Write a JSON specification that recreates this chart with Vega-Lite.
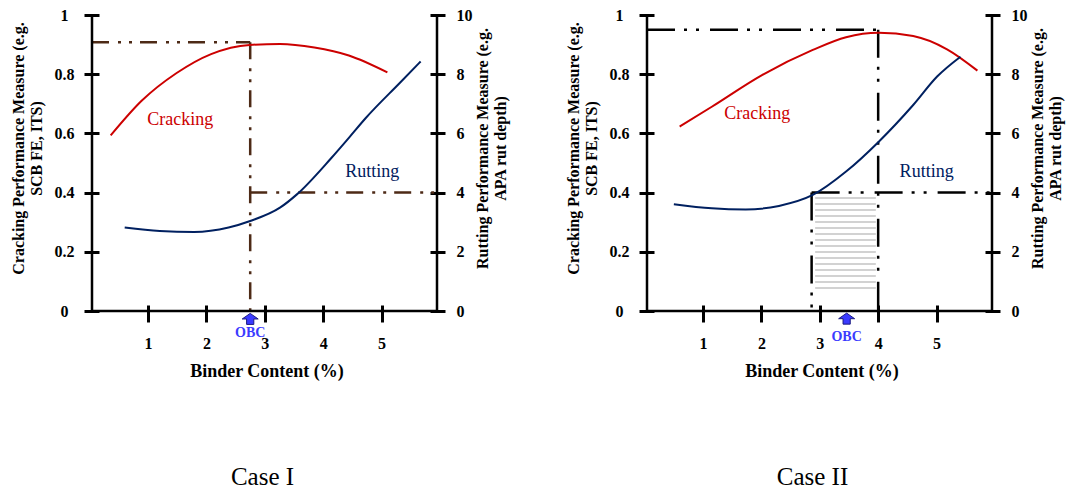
{
  "$schema": "https://vega.github.io/schema/vega-lite/v6.json",
  "autosize": {"type": "pad"},
  "padding": {"left": 9, "top": 7, "right": 5, "bottom": 0},
  "background": "white",
  "config": {
    "view": {"stroke": null},
    "font": "Liberation Serif",
    "axis": {
      "grid": false, "domain": false, "tickColor": "black", "tickWidth": 3,
      "labelFont": "Liberation Serif", "labelFontSize": 16, "labelFontWeight": "bold", "labelColor": "black",
      "labelOverlap": false, "labelFlush": false, "labelBound": false,
      "titleFont": "Liberation Serif", "titleFontSize": 16, "titleFontWeight": "bold", "titleColor": "black", "titleLineHeight": 18
    }
  },
  "datasets": {
    "p1crack": [
      {"x": 0.36, "y": 0.593}, {"x": 0.89, "y": 0.71}, {"x": 1.49, "y": 0.804}, {"x": 2.08, "y": 0.868},
      {"x": 2.74, "y": 0.899}, {"x": 3.26, "y": 0.902}, {"x": 3.85, "y": 0.89}, {"x": 4.44, "y": 0.863}, {"x": 5.1, "y": 0.806}
    ],
    "p1rut": [
      {"x": 0.6, "r": 2.82}, {"x": 1.2, "r": 2.7}, {"x": 1.79, "r": 2.67}, {"x": 2.38, "r": 2.82}, {"x": 2.75, "r": 3.04},
      {"x": 3.26, "r": 3.49}, {"x": 3.55, "r": 3.94}, {"x": 4.14, "r": 5.17}, {"x": 4.44, "r": 5.85}, {"x": 4.73, "r": 6.52},
      {"x": 5.32, "r": 7.72}, {"x": 5.67, "r": 8.43}
    ],
    "p1lines": [
      {"x": 0.04, "x2": 2.75, "y": 0.908, "y2": 0.908},
      {"x": 2.75, "x2": 2.75, "y": 0.908, "y2": 0},
      {"x": 2.75, "x2": 5.95, "y": 0.4, "y2": 0.4}
    ],
    "p1labels": [
      {"x": 1.55, "y": 0.628, "text": "Cracking", "c": "crack"},
      {"x": 4.84, "y": 0.452, "text": "Rutting", "c": "rut"}
    ],
    "p1obc": [{"x": 2.75, "ya": -0.027, "yt": -0.076, "text": "OBC"}],
    "p2crack": [
      {"x": 0.6, "y": 0.623}, {"x": 1.15, "y": 0.69}, {"x": 2.01, "y": 0.797}, {"x": 2.88, "y": 0.882}, {"x": 3.45, "y": 0.925},
      {"x": 4.01, "y": 0.94}, {"x": 4.6, "y": 0.929}, {"x": 5.18, "y": 0.884}, {"x": 5.7, "y": 0.812}
    ],
    "p2rut": [
      {"x": 0.5, "r": 3.61}, {"x": 1.15, "r": 3.47}, {"x": 1.73, "r": 3.43}, {"x": 2.3, "r": 3.55}, {"x": 2.88, "r": 3.92},
      {"x": 3.45, "r": 4.71}, {"x": 4.01, "r": 5.72}, {"x": 4.6, "r": 6.96}, {"x": 5.01, "r": 7.92}, {"x": 5.41, "r": 8.59}
    ],
    "p2lines": [
      {"x": 0.04, "x2": 4.0, "y": 0.95, "y2": 0.95},
      {"x": 4.0, "x2": 4.0, "y": 0.95, "y2": 0},
      {"x": 2.86, "x2": 5.95, "y": 0.4, "y2": 0.4},
      {"x": 2.86, "x2": 2.86, "y": 0.4, "y2": 0}
    ],
    "p2hatch": [{"x": 2.92, "x2": 3.96, "y": 0.057, "y2": 0.394}],
    "p2labels": [
      {"x": 1.93, "y": 0.648, "text": "Cracking", "c": "crack"},
      {"x": 4.83, "y": 0.452, "text": "Rutting", "c": "rut"}
    ],
    "p2obc": [{"x": 3.46, "ya": -0.026, "yt": -0.087, "text": "OBC"}],
    "one": [{}]
  },
  "bounds": "flush",
  "spacing": 210,
  "hconcat": [
    {
      "width": 345, "height": 296,
      "title": {"text": "Case I", "orient": "bottom", "frame": "group", "offset": 85, "dx": -2, "baseline": "top", "fontSize": 25, "font": "Liberation Serif", "fontWeight": "normal", "color": "#000000", "anchor": "middle"},
      "layer": [
        {
          "layer": [
            {
              "data": {"name": "p1lines"},
              "mark": {"type": "rule", "color": "#4d2a16", "strokeWidth": 2.5, "strokeDash": [17, 9, 3, 8, 3, 8], "strokeCap": "butt"},
              "encoding": {
                "x": {"field": "x", "type": "quantitative"}, "x2": {"field": "x2"},
                "y": {"field": "y", "type": "quantitative"}, "y2": {"field": "y2"}
              }
            },
            {"data": {"name": "one"}, "mark": {"type": "rule", "color": "black", "strokeWidth": 2.5}, "encoding": {"x": {"datum": 0.04}}},
            {"data": {"name": "one"}, "mark": {"type": "rule", "color": "black", "strokeWidth": 2.5}, "encoding": {"x": {"datum": 5.95}}},
            {"data": {"name": "one"}, "mark": {"type": "rule", "color": "black", "strokeWidth": 2.5}, "encoding": {"y": {"datum": 0}}},
            {
              "data": {"name": "p1crack"},
              "mark": {"type": "line", "color": "#cc0000", "strokeWidth": 2, "interpolate": "monotone"},
              "encoding": {
                "x": {"field": "x", "type": "quantitative", "scale": {"domain": [0.04, 5.95], "nice": false, "zero": false},
                  "axis": {"orient": "bottom", "title": "Binder Content (%)", "values": [1, 2, 3, 4, 5], "format": "d", "offset": -6, "tickSize": 17,
                    "labelPadding": 13, "titleFontSize": 18, "titleX": 174.5, "titleY": 71, "titleBaseline": "alphabetic", "titleAlign": "center"}},
                "y": {"field": "y", "type": "quantitative", "scale": {"domain": [0, 1], "nice": false, "zero": false},
                  "axis": {"orient": "left", "title": ["Cracking Performance Measure (e.g.", "SCB FE, ITS)"], "values": [0, 0.2, 0.4, 0.6, 0.8, 1], "format": "~g",
                    "offset": -7, "tickSize": 15, "labelAlign": "center", "labelPadding": 20, "titleAngle": 270, "titleBaseline": "middle", "titleAlign": "center", "titleX": -81, "titleY": 133}}
              }
            },
            {
              "data": {"name": "p1labels"},
              "mark": {"type": "text", "font": "Liberation Serif", "fontSize": 18, "align": "center", "baseline": "alphabetic"},
              "encoding": {
                "x": {"field": "x", "type": "quantitative"}, "y": {"field": "y", "type": "quantitative"},
                "text": {"field": "text"},
                "color": {"field": "c", "type": "nominal", "scale": {"domain": ["crack", "rut"], "range": ["#cc0000", "#002060"]}, "legend": null}
              }
            },
            {
              "data": {"name": "p1obc"},
              "mark": {"type": "point", "shape": "M0,-0.7L1,0L0.45,0L0.45,0.68L-0.45,0.68L-0.45,0L-1,0Z", "size": 256, "filled": true, "fill": "#3a3aff", "stroke": "#1c1c80", "strokeWidth": 1, "opacity": 1},
              "encoding": {"x": {"field": "x", "type": "quantitative"}, "y": {"field": "ya", "type": "quantitative"}}
            },
            {
              "data": {"name": "p1obc"},
              "mark": {"type": "text", "font": "Liberation Serif", "fontSize": 14, "fontWeight": "bold", "color": "#3b3bff", "align": "center", "baseline": "middle"},
              "encoding": {"x": {"field": "x", "type": "quantitative"}, "y": {"field": "yt", "type": "quantitative"}, "text": {"field": "text"}}
            }
          ]
        },
        {
          "data": {"name": "p1rut"},
          "mark": {"type": "line", "color": "#002060", "strokeWidth": 2, "interpolate": "monotone"},
          "encoding": {
            "x": {"field": "x", "type": "quantitative", "scale": {"domain": [0.04, 5.95], "nice": false, "zero": false}},
            "y": {"field": "r", "type": "quantitative", "scale": {"domain": [0, 10], "nice": false, "zero": false},
              "axis": {"orient": "right", "title": ["Rutting Performance Measure (e.g.", "APA rut depth)"], "values": [0, 2, 4, 6, 8, 10], "format": "d",
                "offset": -7, "tickSize": 15, "labelAlign": "left", "labelPadding": 11, "titleAngle": 270, "titleBaseline": "middle", "titleAlign": "center", "titleX": 52, "titleY": 133}}
          }
        }
      ],
      "resolve": {"scale": {"y": "independent"}, "axis": {"y": "independent"}}
    },
    {
      "width": 345, "height": 296,
      "title": {"text": "Case II", "orient": "bottom", "frame": "group", "offset": 85, "dx": -7, "baseline": "top", "fontSize": 25, "font": "Liberation Serif", "fontWeight": "normal", "color": "#000000", "anchor": "middle"},
      "layer": [
        {
          "layer": [
            {
              "data": {"name": "p2hatch"},
              "mark": {"type": "rect", "fill": {"gradient": "linear", "x1": 0, "y1": 0, "x2": 0, "y2": 1, "stops": [
                {"offset": 0, "color": "#ffffff"},
                {"offset": 0.03, "color": "#ffffff"}, {"offset": 0.03, "color": "#d2d2d2"}, {"offset": 0.045, "color": "#d2d2d2"}, {"offset": 0.045, "color": "#ffffff"},
                {"offset": 0.09, "color": "#ffffff"}, {"offset": 0.09, "color": "#d2d2d2"}, {"offset": 0.105, "color": "#d2d2d2"}, {"offset": 0.105, "color": "#ffffff"},
                {"offset": 0.15, "color": "#ffffff"}, {"offset": 0.15, "color": "#d2d2d2"}, {"offset": 0.165, "color": "#d2d2d2"}, {"offset": 0.165, "color": "#ffffff"},
                {"offset": 0.21, "color": "#ffffff"}, {"offset": 0.21, "color": "#d2d2d2"}, {"offset": 0.225, "color": "#d2d2d2"}, {"offset": 0.225, "color": "#ffffff"},
                {"offset": 0.27, "color": "#ffffff"}, {"offset": 0.27, "color": "#d2d2d2"}, {"offset": 0.285, "color": "#d2d2d2"}, {"offset": 0.285, "color": "#ffffff"},
                {"offset": 0.33, "color": "#ffffff"}, {"offset": 0.33, "color": "#d2d2d2"}, {"offset": 0.345, "color": "#d2d2d2"}, {"offset": 0.345, "color": "#ffffff"},
                {"offset": 0.39, "color": "#ffffff"}, {"offset": 0.39, "color": "#d2d2d2"}, {"offset": 0.405, "color": "#d2d2d2"}, {"offset": 0.405, "color": "#ffffff"},
                {"offset": 0.45, "color": "#ffffff"}, {"offset": 0.45, "color": "#d2d2d2"}, {"offset": 0.465, "color": "#d2d2d2"}, {"offset": 0.465, "color": "#ffffff"},
                {"offset": 0.51, "color": "#ffffff"}, {"offset": 0.51, "color": "#d2d2d2"}, {"offset": 0.525, "color": "#d2d2d2"}, {"offset": 0.525, "color": "#ffffff"},
                {"offset": 0.57, "color": "#ffffff"}, {"offset": 0.57, "color": "#d2d2d2"}, {"offset": 0.585, "color": "#d2d2d2"}, {"offset": 0.585, "color": "#ffffff"},
                {"offset": 0.63, "color": "#ffffff"}, {"offset": 0.63, "color": "#d2d2d2"}, {"offset": 0.645, "color": "#d2d2d2"}, {"offset": 0.645, "color": "#ffffff"},
                {"offset": 0.69, "color": "#ffffff"}, {"offset": 0.69, "color": "#d2d2d2"}, {"offset": 0.705, "color": "#d2d2d2"}, {"offset": 0.705, "color": "#ffffff"},
                {"offset": 0.75, "color": "#ffffff"}, {"offset": 0.75, "color": "#d2d2d2"}, {"offset": 0.765, "color": "#d2d2d2"}, {"offset": 0.765, "color": "#ffffff"},
                {"offset": 0.81, "color": "#ffffff"}, {"offset": 0.81, "color": "#d2d2d2"}, {"offset": 0.825, "color": "#d2d2d2"}, {"offset": 0.825, "color": "#ffffff"},
                {"offset": 0.87, "color": "#ffffff"}, {"offset": 0.87, "color": "#d2d2d2"}, {"offset": 0.885, "color": "#d2d2d2"}, {"offset": 0.885, "color": "#ffffff"},
                {"offset": 0.93, "color": "#ffffff"}, {"offset": 0.93, "color": "#d2d2d2"}, {"offset": 0.945, "color": "#d2d2d2"}, {"offset": 0.945, "color": "#ffffff"},
                {"offset": 1, "color": "#ffffff"}
              ]}},
              "encoding": {
                "x": {"field": "x", "type": "quantitative"}, "x2": {"field": "x2"},
                "y": {"field": "y", "type": "quantitative"}, "y2": {"field": "y2"}
              }
            },
            {
              "data": {"name": "p2lines"},
              "mark": {"type": "rule", "color": "#000000", "strokeWidth": 2.5, "strokeDash": [28, 9, 3, 9, 3, 11], "strokeCap": "butt"},
              "encoding": {
                "x": {"field": "x", "type": "quantitative"}, "x2": {"field": "x2"},
                "y": {"field": "y", "type": "quantitative"}, "y2": {"field": "y2"}
              }
            },
            {"data": {"name": "one"}, "mark": {"type": "rule", "color": "black", "strokeWidth": 2.5}, "encoding": {"x": {"datum": 0.04}}},
            {"data": {"name": "one"}, "mark": {"type": "rule", "color": "black", "strokeWidth": 2.5}, "encoding": {"x": {"datum": 5.95}}},
            {"data": {"name": "one"}, "mark": {"type": "rule", "color": "black", "strokeWidth": 2.5}, "encoding": {"y": {"datum": 0}}},
            {
              "data": {"name": "p2crack"},
              "mark": {"type": "line", "color": "#cc0000", "strokeWidth": 2, "interpolate": "monotone"},
              "encoding": {
                "x": {"field": "x", "type": "quantitative", "scale": {"domain": [0.04, 5.95], "nice": false, "zero": false},
                  "axis": {"orient": "bottom", "title": "Binder Content (%)", "values": [1, 2, 3, 4, 5], "format": "d", "offset": -6, "tickSize": 17,
                    "labelPadding": 13, "titleFontSize": 18, "titleX": 174.5, "titleY": 71, "titleBaseline": "alphabetic", "titleAlign": "center"}},
                "y": {"field": "y", "type": "quantitative", "scale": {"domain": [0, 1], "nice": false, "zero": false},
                  "axis": {"orient": "left", "title": ["Cracking Performance Measure (e.g.", "SCB FE, ITS)"], "values": [0, 0.2, 0.4, 0.6, 0.8, 1], "format": "~g",
                    "offset": -7, "tickSize": 15, "labelAlign": "center", "labelPadding": 20, "titleAngle": 270, "titleBaseline": "middle", "titleAlign": "center", "titleX": -81, "titleY": 133}}
              }
            },
            {
              "data": {"name": "p2labels"},
              "mark": {"type": "text", "font": "Liberation Serif", "fontSize": 18, "align": "center", "baseline": "alphabetic"},
              "encoding": {
                "x": {"field": "x", "type": "quantitative"}, "y": {"field": "y", "type": "quantitative"},
                "text": {"field": "text"},
                "color": {"field": "c", "type": "nominal", "scale": {"domain": ["crack", "rut"], "range": ["#cc0000", "#002060"]}, "legend": null}
              }
            },
            {
              "data": {"name": "p2obc"},
              "mark": {"type": "point", "shape": "M0,-0.7L1,0L0.45,0L0.45,0.68L-0.45,0.68L-0.45,0L-1,0Z", "size": 256, "filled": true, "fill": "#3a3aff", "stroke": "#1c1c80", "strokeWidth": 1, "opacity": 1},
              "encoding": {"x": {"field": "x", "type": "quantitative"}, "y": {"field": "ya", "type": "quantitative"}}
            },
            {
              "data": {"name": "p2obc"},
              "mark": {"type": "text", "font": "Liberation Serif", "fontSize": 14, "fontWeight": "bold", "color": "#3b3bff", "align": "center", "baseline": "middle"},
              "encoding": {"x": {"field": "x", "type": "quantitative"}, "y": {"field": "yt", "type": "quantitative"}, "text": {"field": "text"}}
            }
          ]
        },
        {
          "data": {"name": "p2rut"},
          "mark": {"type": "line", "color": "#002060", "strokeWidth": 2, "interpolate": "monotone"},
          "encoding": {
            "x": {"field": "x", "type": "quantitative", "scale": {"domain": [0.04, 5.95], "nice": false, "zero": false}},
            "y": {"field": "r", "type": "quantitative", "scale": {"domain": [0, 10], "nice": false, "zero": false},
              "axis": {"orient": "right", "title": ["Rutting Performance Measure (e.g.", "APA rut depth)"], "values": [0, 2, 4, 6, 8, 10], "format": "d",
                "offset": -7, "tickSize": 15, "labelAlign": "left", "labelPadding": 11, "titleAngle": 270, "titleBaseline": "middle", "titleAlign": "center", "titleX": 52, "titleY": 133}}
          }
        }
      ],
      "resolve": {"scale": {"y": "independent"}, "axis": {"y": "independent"}}
    }
  ]
}
